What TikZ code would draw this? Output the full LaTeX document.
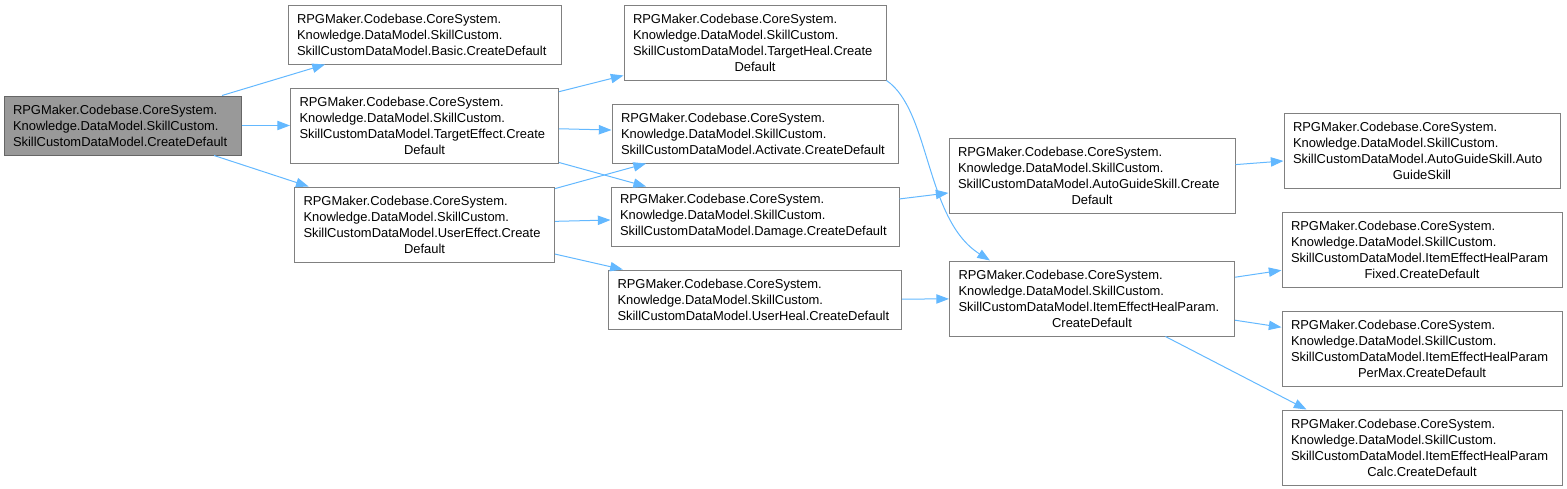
\documentclass[tikz,border=0pt]{standalone}
\usepackage{fontspec}
\setmainfont{Liberation Sans}
\usetikzlibrary{arrows.meta, positioning}
\definecolor{fnborder}{RGB}{128,128,128}
\definecolor{rootfill}{RGB}{153,153,153}
\definecolor{rootborder}{RGB}{102,102,102}
\definecolor{callcolor}{RGB}{99,184,255}
\hyphenpenalty=10000
\exhyphenpenalty=10000

\begin{document}
\begin{tikzpicture}[x=0.75pt, y=-0.75pt, node distance=17.25pt,
    font=\fontsize{9.7}{12}\selectfont,
    fn/.style={rectangle, draw=fnborder, fill=white, line width=0.75pt,
      align=left, inner xsep=6.75pt, inner ysep=3pt, minimum height=44.25pt},
    tall/.style={minimum height=56.25pt},
    call/.style={-{Triangle[length=9.5pt, width=7pt]}, callcolor, line width=0.75pt}]
  \useasboundingbox (0,0) rectangle (1567,489);
  % caller
  \node[fn, fill=rootfill, draw=rootborder, text width=164.25pt] (root) at (122.5,125.5)
    {RPGMaker.Codebase.CoreSystem.\\Knowledge.DataModel.SkillCustom.\\SkillCustomDataModel.CreateDefault};
  % second column
  \node[fn, text width=191.25pt] (basic) at (424.5,34.5)
    {RPGMaker.Codebase.CoreSystem.\\Knowledge.DataModel.SkillCustom.\\SkillCustomDataModel.Basic.CreateDefault};
  \node[fn, tall, text width=187.5pt, below=of basic] (teff)
    {RPGMaker.Codebase.CoreSystem.\\Knowledge.DataModel.SkillCustom.\\SkillCustomDataModel.TargetEffect.Create\\\makebox[\hsize]{Default}};
  \node[fn, tall, text width=181.5pt, below=of teff] (ueff)
    {RPGMaker.Codebase.CoreSystem.\\Knowledge.DataModel.SkillCustom.\\SkillCustomDataModel.UserEffect.Create\\\makebox[\hsize]{Default}};
  % third column
  \node[fn, tall, text width=183pt] (theal) at (755,42.5)
    {RPGMaker.Codebase.CoreSystem.\\Knowledge.DataModel.SkillCustom.\\SkillCustomDataModel.TargetHeal.Create\\\makebox[\hsize]{Default}};
  \node[fn, text width=201pt, below=of theal] (activ)
    {RPGMaker.Codebase.CoreSystem.\\Knowledge.DataModel.SkillCustom.\\SkillCustomDataModel.Activate.CreateDefault};
  \node[fn, text width=202.5pt, below=of activ] (damage)
    {RPGMaker.Codebase.CoreSystem.\\Knowledge.DataModel.SkillCustom.\\SkillCustomDataModel.Damage.CreateDefault};
  \node[fn, text width=206.25pt, below=of damage] (uheal)
    {RPGMaker.Codebase.CoreSystem.\\Knowledge.DataModel.SkillCustom.\\SkillCustomDataModel.UserHeal.CreateDefault};
  % fourth column
  \node[fn, tall, text width=201pt] (agdef) at (1092,175.5)
    {RPGMaker.Codebase.CoreSystem.\\Knowledge.DataModel.SkillCustom.\\SkillCustomDataModel.AutoGuideSkill.Create\\\makebox[\hsize]{Default}};
  \node[fn, tall, text width=200.25pt, below=35.25pt of agdef] (iehp)
    {RPGMaker.Codebase.CoreSystem.\\Knowledge.DataModel.SkillCustom.\\SkillCustomDataModel.ItemEffectHealParam.\\\makebox[\hsize]{CreateDefault}};
  % fifth column
  \node[fn, tall, text width=193.5pt] (agskill) at (1422,150.5)
    {RPGMaker.Codebase.CoreSystem.\\Knowledge.DataModel.SkillCustom.\\SkillCustomDataModel.AutoGuideSkill.Auto\\\makebox[\hsize]{GuideSkill}};
  \node[fn, tall, text width=196.5pt, below=of agskill] (fixed)
    {RPGMaker.Codebase.CoreSystem.\\Knowledge.DataModel.SkillCustom.\\SkillCustomDataModel.ItemEffectHealParam\\\makebox[\hsize]{Fixed.CreateDefault}};
  \node[fn, tall, text width=196.5pt, below=of fixed] (permax)
    {RPGMaker.Codebase.CoreSystem.\\Knowledge.DataModel.SkillCustom.\\SkillCustomDataModel.ItemEffectHealParam\\\makebox[\hsize]{PerMax.CreateDefault}};
  \node[fn, tall, text width=196.5pt, below=of permax] (calc)
    {RPGMaker.Codebase.CoreSystem.\\Knowledge.DataModel.SkillCustom.\\SkillCustomDataModel.ItemEffectHealParam\\\makebox[\hsize]{Calc.CreateDefault}};
  % calls
  \draw[call] (root) -- (basic);
  \draw[call] (root) -- (teff);
  \draw[call] (root) -- (ueff);
  \draw[call] (teff) -- (theal);
  \draw[call] (teff) -- (activ);
  \draw[call] (teff) -- (damage);
  \draw[call] (ueff) -- (activ);
  \draw[call] (ueff) -- (damage);
  \draw[call] (ueff) -- (uheal);
  \draw[call] (theal.south east) .. controls +(44,30) and +(-65,-41) .. ([xshift=30.75pt]iehp.north west);
  \draw[call] (damage) -- (agdef);
  \draw[call] (uheal) -- (iehp);
  \draw[call] (agdef) -- (agskill);
  \draw[call] (iehp) -- (fixed);
  \draw[call] (iehp) -- (permax);
  \draw[call] (iehp) -- ([xshift=18.75pt]calc.north west);
\end{tikzpicture}
\end{document}
